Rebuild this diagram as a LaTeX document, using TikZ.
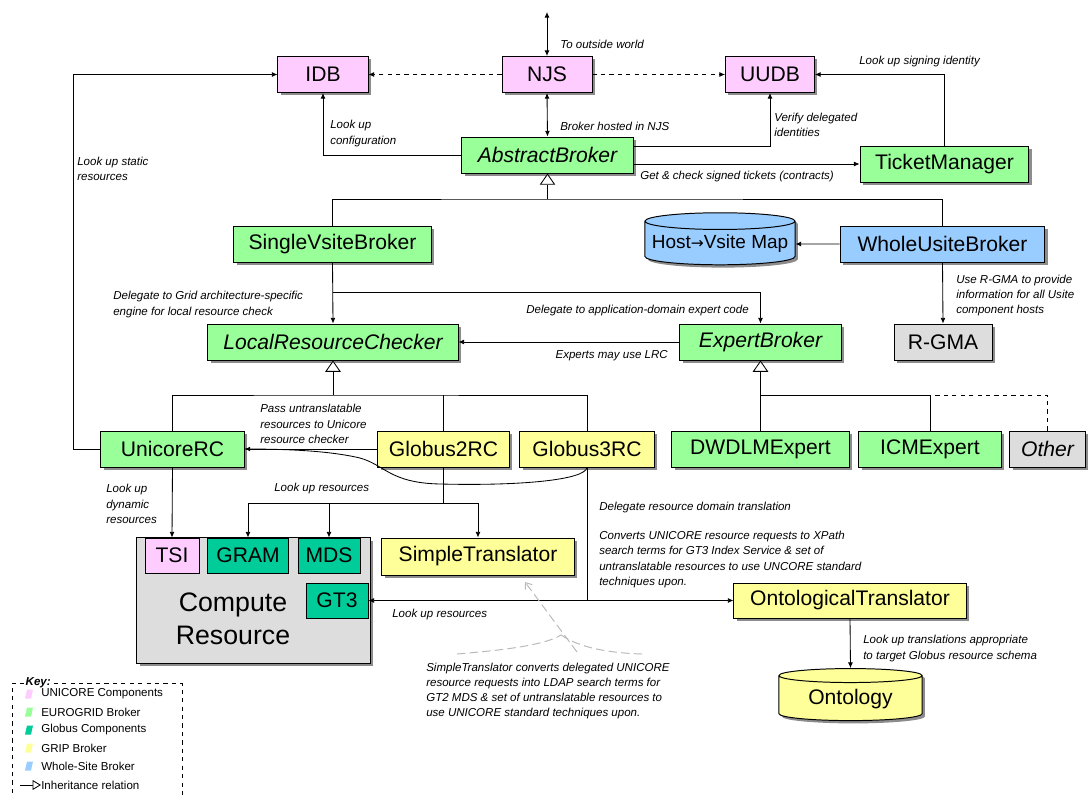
\documentclass[tikz,border=0pt]{standalone}
\usepackage{fontspec}
\setmainfont{Liberation Sans}
\newfontfamily\symfont{DejaVu Sans}
\usetikzlibrary{arrows.meta,shapes.geometric,shadows,calc}

\definecolor{unicorepink}{HTML}{FFCCFF}
\definecolor{eurogreen}{HTML}{99FF99}
\definecolor{globusteal}{HTML}{00CC99}
\definecolor{gripyellow}{HTML}{FFFF99}
\definecolor{siteblue}{HTML}{99CCFF}
\definecolor{othergray}{HTML}{DDDDDD}

\tikzset{
  comp/.style={draw, line width=0.7pt, minimum height=0.9cm, inner sep=1pt,
    font=\fontsize{15}{18}\selectfont,
    drop shadow={shadow xshift=2pt, shadow yshift=-2pt, fill=black!45, opacity=1}},
  part/.style={draw, line width=0.7pt, minimum height=0.875cm, inner sep=1pt,
    font=\fontsize{15}{18}\selectfont},
  store/.style={cylinder, shape border rotate=90, aspect=0.12, draw, line width=0.7pt,
    inner sep=1pt, font=\fontsize{15}{18}\selectfont,
    drop shadow={shadow xshift=2pt, shadow yshift=-2pt, fill=black!45, opacity=1}},
  lbl/.style={font=\fontsize{8.2}{10.8}\selectfont\itshape, inner sep=0pt, align=left},
  link/.style={line width=0.6pt, -{Latex[length=4pt,width=3.5pt]}},
  wire/.style={line width=0.6pt},
  inherit/.style={line width=0.6pt, -{Triangle[open,length=8pt,width=11pt,fill=white]}},
  note/.style={gray!55, line width=0.7pt, dash pattern=on 6pt off 3pt},
}

\begin{document}
\begin{tikzpicture}[x=0.025cm,y=-0.025cm]
\useasboundingbox (0,0) rectangle (1092,796);

% UNICORE servers
\node[comp, fill=unicorepink, minimum width=2.25cm] (idb) at (323,74.5) {IDB};
\node[comp, fill=unicorepink, minimum width=2.25cm] (njs) at (547,74.5) {NJS};
\node[comp, fill=unicorepink, minimum width=2.22cm] (uudb) at (770,74.5) {UUDB};

% Broker classes
\node[comp, fill=eurogreen, minimum width=4.28cm, font=\fontsize{15}{18}\selectfont\itshape] (ab) at (547.5,155) {AbstractBroker};
\node[comp, fill=eurogreen, minimum width=4.22cm] (tm) at (944.5,164) {TicketManager};
\node[comp, fill=eurogreen, minimum width=4.93cm] (svb) at (332.5,244) {SingleVsiteBroker};
\node[store, fill=siteblue, minimum width=3.75cm, minimum height=1.3cm, font=\fontsize{13.5}{16}\selectfont] (hvm) at (720,244) {Host{\symfont\fontsize{11}{16}\selectfont →}Vsite Map};
\node[comp, fill=siteblue, minimum width=5.12cm] (wub) at (942.5,244) {WholeUsiteBroker};
\node[comp, fill=eurogreen, minimum width=6.25cm, font=\fontsize{15}{18}\selectfont\itshape] (lrc) at (333,342) {LocalResourceChecker};
\node[comp, fill=eurogreen, minimum width=4.03cm, font=\fontsize{15}{18}\selectfont\itshape] (eb) at (760.5,342) {ExpertBroker};
\node[comp, fill=othergray, minimum width=2.45cm] (rgma) at (943,342) {R-GMA};

% Resource checkers and experts
\node[comp, fill=eurogreen, minimum width=3.58cm] (uni) at (172.5,449) {UnicoreRC};
\node[comp, fill=gripyellow, minimum width=3.28cm] (g2) at (443.5,449) {Globus2RC};
\node[comp, fill=gripyellow, minimum width=3.35cm] (g3) at (587,449) {Globus3RC};
\node[comp, fill=eurogreen, minimum width=4.43cm] (dwd) at (760.5,449) {DWDLMExpert};
\node[comp, fill=eurogreen, minimum width=3.55cm] (icm) at (930,449) {ICMExpert};
\node[comp, fill=othergray, minimum width=1.88cm, font=\fontsize{15}{18}\selectfont\itshape] (oth) at (1047.5,449) {Other};

% Compute resource
\node[comp, fill=othergray, minimum width=5.83cm, minimum height=3.13cm] (cr) at (253.5,600.5) {};
\node[font=\fontsize{19}{23.4}\selectfont, align=center, inner sep=0pt] (crtext) at (233,618.5) {Compute\\Resource};
\node[part, fill=unicorepink, minimum width=1.35cm] (tsi) at (172,555.5) {TSI};
\node[part, fill=globusteal, minimum width=2cm] (gram) at (248,555.5) {GRAM};
\node[part, fill=globusteal, minimum width=1.55cm] (mds) at (329,555.5) {MDS};
\node[part, fill=globusteal, minimum width=1.55cm] (gt3) at (337,600.5) {GT3};

% Translators
\node[comp, fill=gripyellow, minimum width=4.8cm, minimum height=0.925cm] (st) at (478,556.5) {SimpleTranslator};
\node[comp, fill=gripyellow, minimum width=5.8cm, minimum height=0.875cm] (ot) at (850,600.5) {OntologicalTranslator};
\node[store, aspect=0.16, fill=gripyellow, minimum width=3.58cm, minimum height=1.3cm] (ont) at (850.5,699) {Ontology};

% Junctions
\coordinate (world) at (547,12);
\coordinate (abj) at (ab.south |- 0,199);
\coordinate (abv) at ($(ab.east)+(0,-9)$);
\coordinate (svbj) at (svb.south |- 0,292);
\coordinate (lrcj) at (lrc.south |- 0,395);
\coordinate (ebj) at (eb.south |- 0,395);
\coordinate (uniw) at (73,449);
\coordinate (g2j) at (g2.south |- 0,503);
\coordinate (g3j) at (g3.south |- ot.west);

% Connectors
\draw[line width=0.6pt, {Latex[length=4pt,width=3.5pt]}-{Latex[length=4pt,width=3.5pt]}] (world) -- (njs.north);
\draw[line width=0.6pt, {Latex[length=4pt,width=3.5pt]}-{Latex[length=4pt,width=3.5pt]}] (njs.south) -- (ab.north);
\draw[link, dashed] (njs.west) -- (idb.east);
\draw[link, dashed] (njs.east) -- (uudb.west);
\draw[link] (ab.west) -| (idb.south);
\draw[link] (abv) -| (uudb.south);
\draw[link] (ab.east |- tm.west) -- (tm.west);
\draw[link] (tm.north) |- (uudb.east);

\draw[wire] (svb.north) |- (abj) -| (wub.north);
\draw[inherit] (abj) -- (ab.south);
\draw[link] (wub.west) -- (hvm.east);
\draw[link] (wub.south) -- (rgma.north);
\draw[link] (svb.south) -- (lrc.north);
\draw[link] (svbj) -| (eb.north);
\draw[link] (eb.west) -- (lrc.east);

\draw[wire] (uni.north) |- (lrcj) -| (g3.north);
\draw[wire] (g2.north) -- (g2.north |- lrcj);
\draw[inherit] (lrcj) -- (lrc.south);
\draw[inherit] (dwd.north) -- (eb.south);
\draw[wire] (icm.north) |- (ebj);
\draw[wire, dashed] (oth.north) |- (icm.north |- ebj);

\draw[link] (g2.west) -- (uni.east);
\draw[wire] (g3.south) .. controls (585,480) and (520,486) .. (440,484)
  .. controls (390,483) and (385,465) .. (360,458)
  .. controls (330,451) and (290,449) .. (uni.east);
\draw[link] (uni.west) -- (uniw) |- (idb.west);
\draw[link] (uni.south) -- (tsi.north);
\draw[wire] (g2.south) -- (g2j);
\draw[link] (g2j) -| (gram.north);
\draw[link] (g2j) -| (mds.north);
\draw[link] (g2j) -| (st.north);
\draw[wire] (g3.south) -- (g3j);
\draw[link] (g3j) -- (gt3.east);
\draw[link] (g3j) -- (ot.west);
\draw[link] (ot.south) -- (ont.north);

% Labels
\node[lbl, anchor=west] (lworld) at (560,44) {To outside world};
\node[lbl, anchor=west] (lhost) at (560,126) {Broker hosted in NJS};
\node[lbl, anchor=west] (lconf) at (330,133.5) {Look up\\configuration};
\node[lbl, anchor=west] (lver) at (774,124.5) {Verify delegated\\identities};
\node[lbl, anchor=west] (ltick) at (640,177) {Get \& check signed tickets (contracts)};
\node[lbl, anchor=west] (lsign) at (859,62) {Look up signing identity};
\node[lbl, anchor=west] (lstat) at (77,169) {Look up static\\resources};
\node[lbl, anchor=west] (lgrid) at (113,304.5) {Delegate to Grid architecture-specific\\engine for local resource check};
\node[lbl, anchor=east] (lapp) at (749,311) {Delegate to application-domain expert code};
\node[lbl, anchor=east] (llrc) at (668,356) {Experts may use LRC};
\node[lbl, anchor=west] (lrgma) at (956,295.5) {Use R-GMA to provide\\information for all Usite\\component hosts};
\node[lbl, anchor=west] (lpass) at (260,424) {Pass untranslatable\\resources to Unicore\\resource checker};
\node[lbl, anchor=west] (ldyn) at (106,504) {Look up\\dynamic\\resources};
\node[lbl, anchor=west] (lres2) at (274,489) {Look up resources};
\node[lbl, anchor=west] (ldel) at (599,508) {Delegate resource domain translation};
\node[lbl, anchor=west] (lxpath) at (599,559.5) {Converts UNICORE resource requests to XPath\\search terms for GT3 Index Service \& set of\\untranslatable resources to use UNCORE standard\\techniques upon.};
\node[lbl, anchor=west] (lres3) at (392,615) {Look up resources};
\node[lbl, anchor=west] (lont) at (863,648.5) {Look up translations appropriate\\to target Globus resource schema};
\node[lbl, anchor=west] (lsimple) at (426,691) {SimpleTranslator converts delegated UNICORE\\resource requests into LDAP search terms for\\GT2 MDS \& set of untranslatable resources to\\use UNICORE standard techniques upon.};

% Callout for the SimpleTranslator note
\coordinate (notetip) at (525,582);
\coordinate (notetail) at (577,652);
\coordinate (notemid) at (561,635);
\coordinate (noteleft) at (457,654);
\coordinate (noteright) at (642,654);
\draw[note, -{Straight Barb[length=4pt,width=6pt]}] (notetail) -- (notetip);
\draw[note] (noteleft) .. controls (505,650) and (545,645) .. (notemid);
\draw[note] (notemid) .. controls (580,648) and (610,653) .. (noteright);

% Key
\draw[line width=0.6pt, dashed] (12,810) -- (12,683) -- (182,683) -- (182,810);
\node[font=\fontsize{8.2}{10}\selectfont\bfseries\itshape, fill=white, inner sep=1pt, anchor=west] (keytitle) at (24,683) {Key:};
\foreach \col/\txt/\yy [count=\i] in {unicorepink/UNICORE Components/694,
    eurogreen/EUROGRID Broker/712, globusteal/Globus Components/730,
    gripyellow/GRIP Broker/748, siteblue/Whole-Site Broker/766} {
  \fill[\col] (25,\yy+4.5) -- (31,\yy+4.5) -- (33,\yy-4.5) -- (27,\yy-4.5) -- cycle;
  \node[font=\fontsize{8.2}{10}\selectfont, inner sep=0pt, anchor=west] (key\i) at (41,\yy) {\txt};
}
\coordinate (keyarr) at (20,785);
\node[font=\fontsize{8.2}{10}\selectfont, inner sep=0pt, anchor=west] (key6) at (41,785) {Inheritance relation};
\draw[line width=0.6pt, -{Triangle[open,length=6pt,width=7pt,fill=white]}] (keyarr) -- (key6.west);
\end{tikzpicture}
\end{document}
